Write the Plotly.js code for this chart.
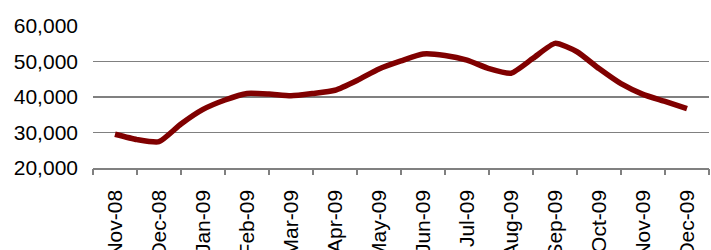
<!DOCTYPE html>
<html>
<head>
<meta charset="utf-8">
<script src="https://cdn.plot.ly/plotly-3.0.1.min.js"></script>
<style>html,body{margin:0;padding:0;background:#fff;}#chart{width:711px;height:250px;}</style>
</head>
<body>
<div id="chart"></div>
<script>
// Month labels (category axis)
const months = ["Nov-08","Dec-08","Jan-09","Feb-09","Mar-09","Apr-09","May-09","Jun-09","Jul-09","Aug-09","Sep-09","Oct-09","Nov-09","Dec-09"];
// Semi-monthly observations, position in months from Nov-08
const obsPos = [0,0.5,1,1.5,2,2.5,3,3.5,4,4.5,5,5.5,6,6.5,7,7.5,8,8.5,9,9.5,10,10.5,11,11.5,12,12.5,13];
const obsValues = [29500,28000,27400,32400,36500,39150,41000,40850,40350,41000,41900,44650,47900,50150,52100,51700,50400,48000,46700,50900,55100,52750,48000,43750,40750,38750,36700];
const yTicks = [20000,30000,40000,50000,60000];

const monthIdx = months.map((m,i)=>i);
const boundaries = months.map((m,i)=>i-0.5).concat([months.length-0.5]);
const font = {family:"Liberation Sans, Arial, sans-serif", size:21, color:"#000"};

const data = [
  {x: obsPos, y: obsValues, type:"scatter", mode:"lines",
   line:{color:"#800000", width:5.5, shape:"spline", smoothing:0.55},
   hoverinfo:"skip", showlegend:false},
  {x: [], y: [], xaxis:"x2", type:"scatter", mode:"lines", showlegend:false, hoverinfo:"skip"}
];
const layout = {
  width:711, height:250,
  margin:{l:93, r:2, t:26, b:82, pad:0},
  paper_bgcolor:"#fff", plot_bgcolor:"#fff",
  font: font,
  showlegend:false,
  xaxis:{type:"linear", range:[-0.5, months.length-0.5], tickvals:monthIdx, ticktext:months,
         tickangle:-90, ticks:"", showgrid:false, zeroline:false,
         showline:true, linecolor:"#808080", linewidth:1.5, ticklabelstandoff:12,
         tickfont:font, fixedrange:true},
  xaxis2:{type:"linear", overlaying:"x", anchor:"y", side:"bottom", range:[-0.5, months.length-0.5],
          tickvals:boundaries, ticks:"outside", ticklen:6, tickwidth:1.5, tickcolor:"#808080",
          showticklabels:false, showgrid:false, zeroline:false, showline:false},
  yaxis:{range:[20000,60000], tickvals:yTicks, tickformat:",", ticks:"",
         showgrid:true, gridcolor:"#808080", gridwidth:1.5, zeroline:false, showline:false,
         ticklabelstandoff:14, tickfont:font, fixedrange:true},
  separators:".,"
};
Plotly.newPlot("chart", data, layout, {staticPlot:true, displayModeBar:false});
</script>
</body>
</html>
